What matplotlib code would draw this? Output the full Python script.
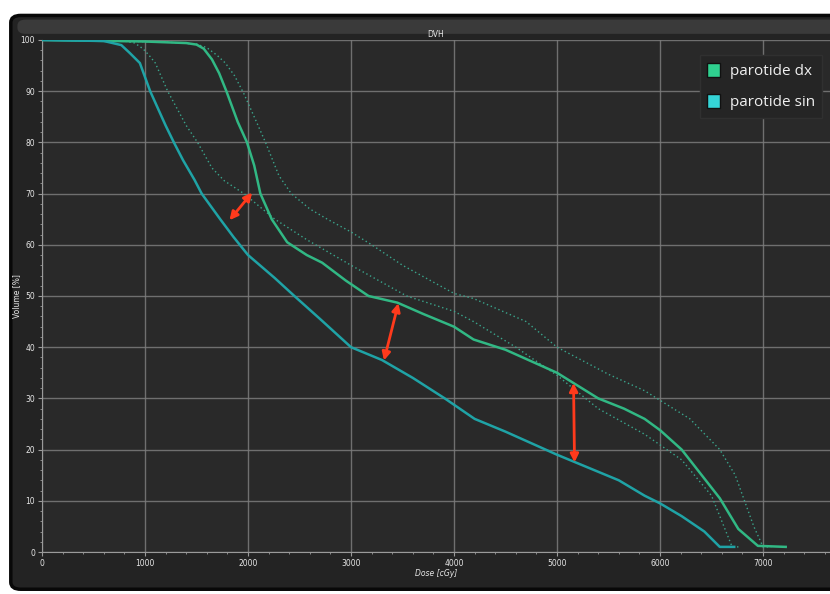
"""Recreate the DVH chart (parotide dx / sin) on a dark panel."""

import matplotlib
matplotlib.use("Agg")
import matplotlib.pyplot as plt
from matplotlib.patches import FancyBboxPatch, Rectangle
from matplotlib.ticker import MultipleLocator

# dose [cGy] / volume [%]
sin_dose = [0, 600, 770, 850, 950, 1050, 1200, 1280, 1370, 1480, 1550, 1730,
            1860, 2000, 2260, 2450, 2700, 3000, 3300, 3600, 3910, 4200, 4500,
            5000, 5300, 5600, 5850, 6000, 6210, 6430, 6580, 6720]
sin_vol = [100, 99.8, 99, 97.5, 95.5, 90, 83.3, 80, 76.5, 72.7, 70, 65,
           61.5, 58, 53.5, 50, 45.5, 40, 37.5, 34, 30, 26, 23.5,
           19, 16.5, 14, 11, 9.5, 7, 4, 1, 1]

dx_dose = [0, 1000, 1400, 1500, 1570, 1650, 1720, 1790, 1900, 1990, 2060, 2120,
           2230, 2380, 2570, 2720, 2950, 3170, 3450, 3700, 4000, 4190, 4500,
           5000, 5400, 5650, 5850, 6000, 6210, 6580, 6760, 6950, 7220]
dx_vol = [100, 99.7, 99.4, 99.1, 98.3, 96.2, 93.5, 90, 84, 80, 75.5, 70,
          65, 60.5, 58, 56.5, 53, 50, 48.7, 46.5, 44, 41.5, 39.5,
          35, 30, 28, 26, 23.8, 20, 10.5, 4.5, 1.2, 1]

ref_inner_dose = [0, 800, 900, 980, 1040, 1100, 1220, 1400, 1510, 1650, 1770,
                  1960, 2260, 2570, 3000, 3540, 4000, 4190, 4600, 5000, 5400,
                  5850, 6210, 6500, 6640, 6700, 6780]
ref_inner_vol = [100, 99.8, 99.4, 98.3, 97, 95.5, 90, 83.3, 80, 75, 72.5,
                 70, 65, 61, 56, 50, 47, 45, 40, 34.5, 28,
                 23, 18, 11, 4, 1, 1]

ref_outer_dose = [0, 1200, 1500, 1600, 1700, 1780, 1870, 1960, 2060, 2170, 2300,
                  2420, 2600, 2770, 3000, 3200, 3500, 4000, 4190, 4700, 5000,
                  5500, 5850, 6290, 6580, 6730, 6910, 7000, 7080]
ref_outer_vol = [100, 99.6, 99.2, 98.5, 97, 95.5, 93, 89.5, 85, 80, 73.5,
                 70, 67, 65, 62.5, 60, 56, 50.5, 49.5, 45, 40,
                 34.7, 31.5, 26, 20, 15, 5, 1, 1]

# red double arrows: (dose, vol) start -> end
arrow_pairs = [((1820, 64.8), (2040, 70.2)),
               ((3320, 37.4), (3460, 48.6)),
               ((5170, 17.5), (5160, 33))]

series_labels = ["parotide dx", "parotide sin"]
swatch_colors = ["#2fd08f", "#35d4d6"]

fig = plt.figure(figsize=(8.3, 5.94), dpi=100, facecolor="white")

# dark screenshot panel behind the axes
panel = FancyBboxPatch((0.013, 0.008), 1.2, 0.966,
                       boxstyle="round,pad=0,rounding_size=0.012",
                       transform=fig.transFigure, facecolor="#232323",
                       edgecolor="#080808", linewidth=2.5, zorder=-2)
fig.patches.append(panel)
bevel = FancyBboxPatch((0.021, 0.943), 1.2, 0.024,
                       boxstyle="round,pad=0,rounding_size=0.01",
                       transform=fig.transFigure, facecolor="#3a3a3a",
                       edgecolor="none", zorder=-1)
fig.patches.append(bevel)

ax = fig.add_axes([0.0506, 0.0707, 0.9494, 0.862])
ax.set_zorder(1)
ax.set_facecolor("#292929")

ax.plot(ref_outer_dose, ref_outer_vol, color="#3aa58c", lw=1.0,
        linestyle=(0, (1, 2)), zorder=3)
ax.plot(ref_inner_dose, ref_inner_vol, color="#3aa58c", lw=1.0,
        linestyle=(0, (1, 2)), zorder=3)
ax.plot(dx_dose, dx_vol, color="#31b884", lw=1.8, zorder=4)
ax.plot(sin_dose, sin_vol, color="#1fa3a6", lw=1.8, zorder=4)

for (x0, y0), (x1, y1) in arrow_pairs:
    ax.annotate("", xy=(x1, y1), xytext=(x0, y0),
                arrowprops=dict(arrowstyle="<|-|>", color="#ff3a1c", lw=2.0,
                                mutation_scale=12, shrinkA=0, shrinkB=0),
                zorder=6)

ax.set_xlim(0, 7650)
ax.set_ylim(0, 100)
ax.xaxis.set_major_locator(MultipleLocator(1000))
ax.xaxis.set_minor_locator(MultipleLocator(200))
ax.yaxis.set_major_locator(MultipleLocator(10))
ax.yaxis.set_minor_locator(MultipleLocator(2))
ax.grid(True, which="major", color="#7c7c7c", linewidth=1.0, alpha=0.85)
ax.tick_params(which="both", colors="#9a9a9a", labelcolor="#e6e6e6",
               labelsize=5.5, direction="out", pad=2)
ax.tick_params(which="major", length=3)
ax.tick_params(which="minor", length=1.5)
for side in ["top", "right"]:
    ax.spines[side].set_visible(False)
for side in ["left", "bottom"]:
    ax.spines[side].set_color("#9a9a9a")

ax.set_title("DVH", color="#e6e6e6", fontsize=5.5, pad=2)
ax.set_xlabel("Dose [cGy]", color="#e6e6e6", fontsize=5.5, style="italic",
              labelpad=1)
ax.set_ylabel("Volume [%]", color="#e6e6e6", fontsize=5.5)
ax.yaxis.set_label_coords(-0.027, 0.5)

handles = [Rectangle((0, 0), 1, 1, facecolor=c, edgecolor="#111111", lw=1)
           for c in swatch_colors]
leg = ax.legend(handles, series_labels, loc="upper right",
                bbox_to_anchor=(1.0, 0.985), frameon=True,
                prop={"family": ["Open Sans", "DejaVu Sans"], "size": 11},
                facecolor="#252525", edgecolor="#303030", labelcolor="#f0f0f0",
                handlelength=0.85, handleheight=1.0, handletextpad=0.6,
                borderpad=0.5, labelspacing=1.0, fancybox=False)
leg.get_frame().set_alpha(1.0)

fig.savefig("out.png", dpi=100, facecolor="white")
